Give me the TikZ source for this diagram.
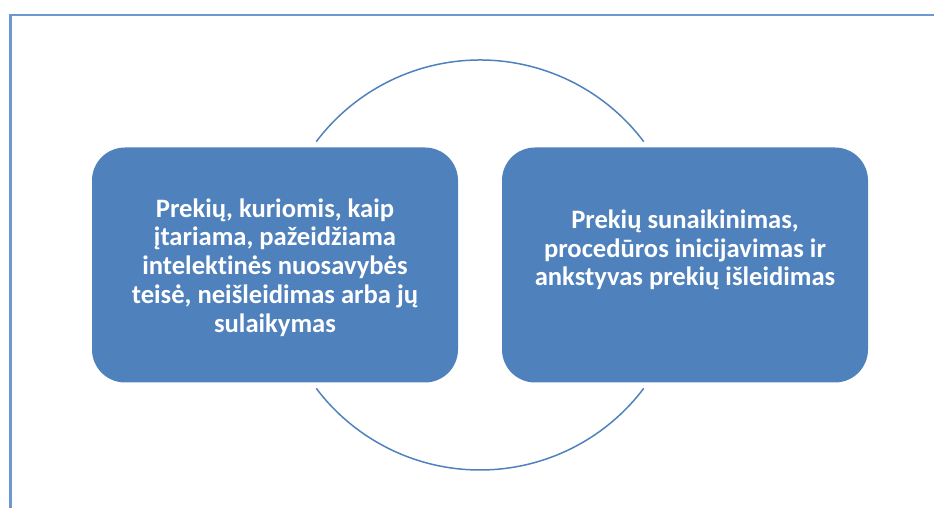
\documentclass[tikz,border=0pt]{standalone}
\usepackage{fontspec}
\setmainfont{Carlito}[Ligatures=NoCommon]
\usetikzlibrary{positioning}
\definecolor{boxblue}{HTML}{4F81BD}
\definecolor{framblue}{HTML}{6D97D2}
\tikzset{box/.style={rounded corners=16.5pt,fill=boxblue,minimum width=183pt,minimum height=117.5pt},
         txt/.style={text=white,font=\bfseries\fontsize{13.3}{14.4}\selectfont,align=center},
         ring/.style={draw=boxblue,line width=0.75pt}}

\begin{document}
\begin{tikzpicture}[x=0.5pt,y=0.5pt]
        \useasboundingbox (0,0) rectangle (934,508);
        \draw[framblue,line width=1.1pt](10.5,0)--(10.5,493)--(934,493);

        \coordinate(c)at(480,243);
        \draw[ring]([shift={(37:102.5pt)}]c)arc[start angle=37,end angle=143,radius=102.5pt];
        \draw[ring]([shift={(217:102.5pt)}]c)arc[start angle=217,end angle=323,radius=102.5pt];

        \node[box](b1)at(275,243){};
        \node[box](b2)at(685,243){};
        \node[txt](t1)at(275,240.5){Prekių, kuriomis, kaip\\įtariama, pažeidžiama\\intelektinės nuosavybės\\teisė, neišleidimas arba jų\\sulaikymas};
        \node[txt](t2)at(685,258){Prekių sunaikinimas,\\procedūros inicijavimas ir\\ankstyvas prekių išleidimas};
    \end{tikzpicture}
\end{document}
